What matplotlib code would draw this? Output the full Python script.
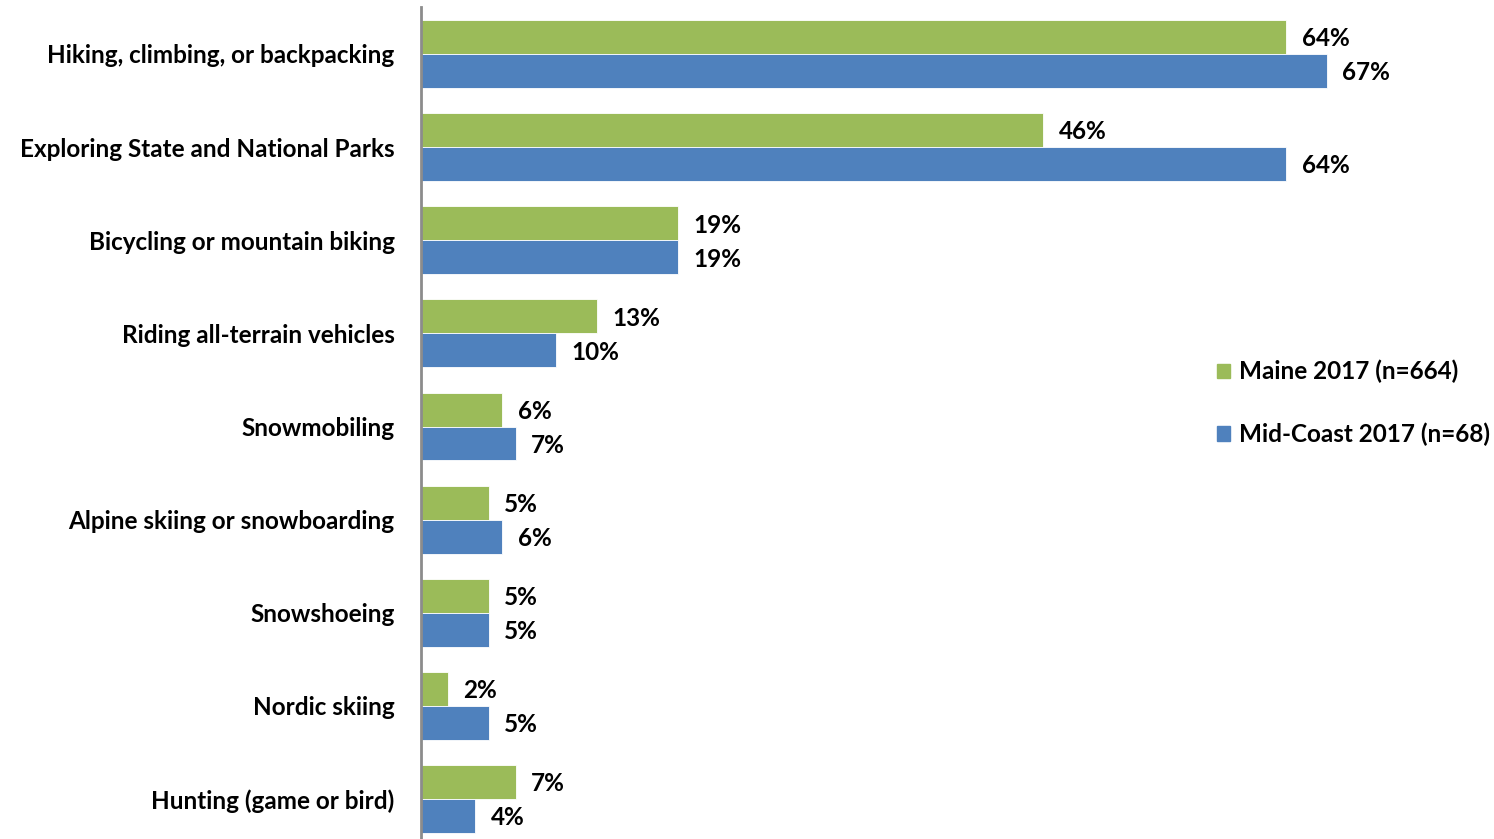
import matplotlib.pyplot as plt
import numpy as np
from matplotlib.patches import Patch

plt.rcParams['font.family'] = ['Lato', 'DejaVu Sans']

categories = [
    'Hiking, climbing, or backpacking',
    'Exploring State and National Parks',
    'Bicycling or mountain biking',
    'Riding all-terrain vehicles',
    'Snowmobiling',
    'Alpine skiing or snowboarding',
    'Snowshoeing',
    'Nordic skiing',
    'Hunting (game or bird)',
]
maine = [64, 46, 19, 13, 6, 5, 5, 2, 7]
midcoast = [67, 64, 19, 10, 7, 6, 5, 5, 4]
series_names = ['Maine 2017 (n=664)', 'Mid-Coast 2017 (n=68)']

GREEN = '#9BBB59'
BLUE = '#4F81BD'
FS = 17.5

fig = plt.figure(figsize=(14.94, 8.39), dpi=100)
ax = fig.add_axes([421 / 1494, -6.6 / 839, 1073 / 1494, 838.2 / 839])

y = np.arange(len(categories))
h = 0.365
ax.barh(y - h / 2, maine, height=h, color=GREEN, edgecolor='white', linewidth=0.6)
ax.barh(y + h / 2, midcoast, height=h, color=BLUE, edgecolor='white', linewidth=0.6)

# value labels just past the bar ends
for i in range(len(categories)):
    ax.text(maine[i] + 1.15, y[i] - h / 2 + 0.02, f'{maine[i]}%', va='center', ha='left',
            fontsize=FS, fontweight='bold')
    ax.text(midcoast[i] + 1.15, y[i] + h / 2 + 0.02, f'{midcoast[i]}%', va='center', ha='left',
            fontsize=FS, fontweight='bold')

ax.set_xlim(0, 1073 / 13.52)
ax.set_ylim(len(categories) - 0.5, -0.5)
ax.set_yticks(y)
ax.set_yticklabels(categories, fontsize=FS, fontweight='bold')
ax.tick_params(axis='y', length=0, pad=19)
ax.set_xticks([])

for s in ['top', 'right', 'bottom']:
    ax.spines[s].set_visible(False)
ax.spines['left'].set_color('#8C8C8C')
ax.spines['left'].set_linewidth(2)

handles = [Patch(color=GREEN), Patch(color=BLUE)]
leg = ax.legend(handles, series_names, loc='center left',
                bbox_to_anchor=(1217 / 1494, 1 - 403 / 839), bbox_transform=fig.transFigure,
                frameon=False, borderpad=0, borderaxespad=0,
                handlelength=0.55, handleheight=0.55, handletextpad=0.35,
                labelspacing=1.6, prop={'size': FS, 'weight': 'bold'})

fig.savefig('out.png', dpi=100)
